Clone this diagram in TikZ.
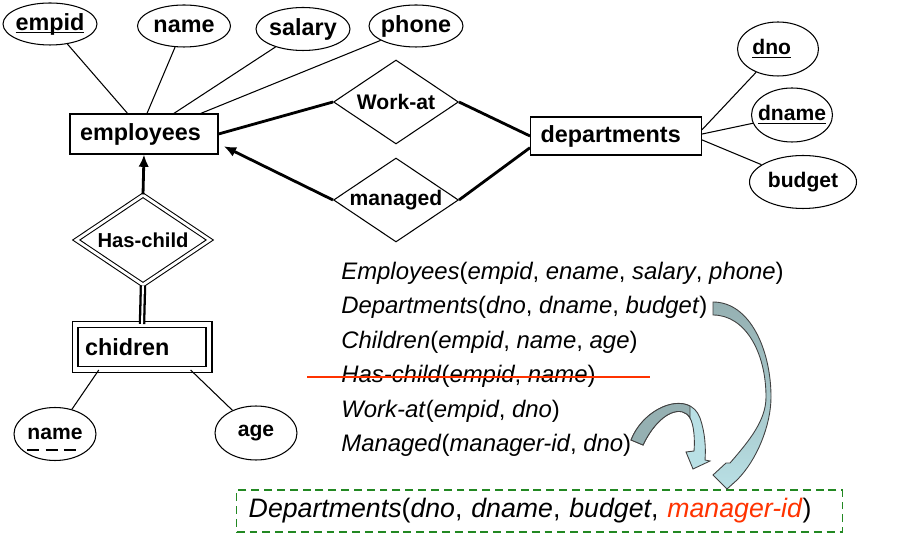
\documentclass[tikz,border=0pt]{standalone}
\usepackage{fontspec}
\setmainfont{Liberation Sans}
\usetikzlibrary{shapes.geometric}
\usetikzlibrary{arrows.meta}
\usetikzlibrary{calc}
\definecolor{arrowdark}{RGB}{149,176,178}
\definecolor{arrowlight}{RGB}{185,224,229}
\definecolor{strikered}{RGB}{255,51,0}
\definecolor{boxgreen}{RGB}{34,136,34}
\newcommand{\lbl}[1]{\makebox[0pt]{#1}}
\newcommand{\keyattr}[1]{\underline{\smash{#1}}\vphantom{#1}}

\begin{document}
\begin{tikzpicture}[x=0.02cm,y=-0.02cm,
  attr/.style={draw,ellipse,inner sep=0pt,line width=0.6pt},
  entity/.style={draw,rectangle,align=left,inner xsep=0.2cm,inner ysep=0pt,line width=0.6pt},
  rel/.style={draw,diamond,inner sep=0pt,line width=0.6pt},
  bigtext/.style={font=\bfseries\fontsize{13.3}{15}\selectfont},
  smalltext/.style={font=\bfseries\fontsize{12}{14}\selectfont},
  link/.style={line width=0.6pt},
  thickline/.style={line width=1.6pt},
  relrow/.style={anchor=base west,inner sep=0pt,font=\fontsize{13.6}{15}\selectfont},
  blockarrow/.style={draw=black!75,line width=0.5pt}]
\useasboundingbox (0,0) rectangle (902,543);
% entities
\node[entity,bigtext,text width=2.56cm,minimum height=0.8cm] (employees) at (144,134) {employees};
\node[entity,bigtext,text width=3.02cm,minimum height=0.76cm] (departments) at (616,136) {departments};
\node[entity,bigtext,text width=2.28cm,minimum height=0.9cm,double,double distance=2.8pt] (children) at (142,347) {chidren};
% relationships
\node[rel,smalltext,minimum width=2.5cm,minimum height=1.68cm] (workat) at (396,102) {\lbl{Work-at}};
\node[rel,smalltext,minimum width=2.5cm,minimum height=1.68cm] (managed) at (396,200) {\lbl{managed}};
\node[rel,font=\bfseries\fontsize{11.5}{13}\selectfont,minimum width=2.68cm,minimum height=1.8cm,double,double distance=1.6pt] (haschild) at (143,240) {\lbl{Has-child}};
% attributes
\node[attr,bigtext,minimum width=1.88cm,minimum height=0.84cm] (empid) at (50,24) {\lbl{\keyattr{empid}}};
\node[attr,bigtext,minimum width=1.86cm,minimum height=0.84cm] (ename) at (184,26) {\lbl{name}};
\node[attr,bigtext,minimum width=1.88cm,minimum height=0.86cm] (salary) at (303,29) {\lbl{salary}};
\node[attr,bigtext,minimum width=1.88cm,minimum height=0.84cm] (phone) at (416,26) {\lbl{phone}};
\node[attr,smalltext,minimum width=1.62cm,minimum height=1.08cm] (dno) at (778,49) {\lbl{\keyattr{dno}\hspace*{0.25cm}}};
\node[attr,smalltext,minimum width=1.62cm,minimum height=1.08cm] (dname) at (792,115) {\lbl{\keyattr{dname}}};
\node[attr,smalltext,minimum width=2.14cm,minimum height=1.06cm] (budget) at (803,182) {\lbl{budget}};
\node[attr,smalltext,minimum width=1.64cm,minimum height=1.06cm] (cname) at (55,434) {\lbl{name}};
\node[attr,smalltext,minimum width=1.64cm,minimum height=1.08cm] (age) at (256,433) {\lbl{age}};
\draw[dash pattern=on 7pt off 3.5pt,line width=1.2pt] ([xshift=-15.9pt,yshift=-9pt]cname.center) -- ([xshift=14.2pt,yshift=-9pt]cname.center);
% attribute links
\draw[link] (empid) -- ($(employees.north west)!0.39!(employees.north east)$);
\draw[link] (ename) -- ($(employees.north west)!0.52!(employees.north east)$);
\draw[link] (salary) -- ($(employees.north west)!0.70!(employees.north east)$);
\draw[link] (phone) -- ($(employees.north west)!0.88!(employees.north east)$);
\draw[link] ($(departments.north east)!0.34!(departments.south east)$) -- (dno);
\draw[link] ($(departments.north east)!0.45!(departments.south east)$) -- (dname);
\draw[link] ($(departments.north east)!0.60!(departments.south east)$) -- (budget);
\draw[link] ($(children.south west)!0.18!(children.south east)$) -- (cname);
\draw[link] ($(children.south west)!0.86!(children.south east)$) -- (age);
% relationship links
\draw[thickline] (employees.east) -- (workat.west);
\draw[thickline] (workat.east) -- (departments.west);
\draw[thickline,-{Latex[length=7pt,width=6pt]}] (managed.west) -- ($(employees.east)!0.6!(employees.south east)+(3pt,0)$);
\draw[thickline] (managed.east) -- ($(departments.west)!0.6!(departments.south west)$);
\draw[thickline,-{Latex[length=7pt,width=6pt]}] (haschild.north) -- (employees.south);
\draw[line width=1.3pt,double,double distance=1.1pt] (haschild.south) -- (children.north);
% relations
\node[relrow] (rEmployees) at (341,280) {\textit{Employees}(\textit{empid}, \textit{ename}, \textit{salary}, \textit{phone})};
\node[relrow] (rDepartments) at (341,314) {\textit{Departments}(\textit{dno}, \textit{dname}, \textit{budget})};
\node[relrow] (rChildren) at (341,349) {\textit{Children}(\textit{empid}, \textit{name}, \textit{age})};
\node[relrow] (rHaschild) at (341,383) {\textit{Has-child}(\textit{empid}, \textit{name})};
\node[relrow] (rWorkat) at (341,418) {\textit{Work-at}(\textit{empid}, \textit{dno})};
\node[relrow] (rManaged) at (341,452) {\textit{Managed}(\textit{manager-id}, \textit{dno})};
\draw[strikered,line width=1.7pt] (307,377) -- (650,377);
\node[draw=boxgreen,line width=0.85pt,dash pattern=on 4.5pt off 2.8pt,anchor=west,inner xsep=0.24cm,text width=11.64cm,align=left,minimum height=0.84cm,font=\fontsize{15.2}{18}\selectfont] (result) at (236,511) {\textit{Departments}(\textit{dno}, \textit{dname}, \textit{budget}, \textcolor{strikered}{\textit{manager-id}})};
% curved arrows
\draw[blockarrow,top color=arrowdark,bottom color=arrowlight,middle color=arrowdark!55!arrowlight] (713,302) .. controls (750,302) and (771,350) .. (771,397)
  .. controls (771,425) and (757,460) .. (737,480) -- (727,489) -- (713,475) -- (726,463) -- (730,463)
  .. controls (750,440) and (766,420) .. (766,397) .. controls (766,352) and (745,315) .. (713,315) -- cycle;
\draw[blockarrow,fill=arrowlight] (631,440) .. controls (645,405) and (690,390) .. (700,418)
  .. controls (705,432) and (706,448) .. (705,460) -- (710,461) -- (693,469) -- (686,452) -- (694,451)
  .. controls (695,440) and (694,425) .. (690,418) .. controls (683,405) and (660,410) .. (643,445) -- cycle;
\draw[blockarrow,fill=arrowdark] (631,440) .. controls (642,412) and (673,397) .. (690,406) -- (690,418)
  .. controls (683,405) and (660,410) .. (643,445) -- cycle;
\end{tikzpicture}
\end{document}
